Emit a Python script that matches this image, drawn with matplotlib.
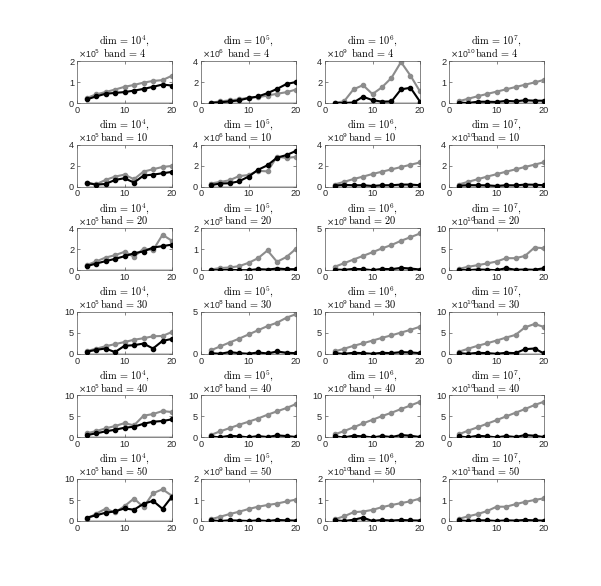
import matplotlib
matplotlib.use("Agg")
import matplotlib.pyplot as plt

FIG_W, FIG_H = 601, 586
GRAY = "#8c8c8c"
LIGHT = "#c8c8c8"
AXIS_COLOR = "#262626"

plt.rcParams["font.family"] = ["Liberation Sans", "DejaVu Sans"]

x = [2, 4, 6, 8, 10, 12, 14, 16, 18, 20]
dims = [4, 5, 6, 7]            # dim = 10^k
bands = [4, 10, 20, 30, 40, 50]

# exponent shown above each panel (x10^e), per row
exponents = [
    [5, 6, 9, 10],
    [5, 6, 9, 10],
    [5, 8, 9, 10],
    [5, 8, 9, 10],
    [5, 8, 9, 10],
    [5, 9, 10, 11],
]

# y ticks per panel (last one is the upper limit)
yticks = [
    [[0, 1, 2], [0, 2, 4], [0, 2, 4], [0, 1, 2]],
    [[0, 2, 4], [0, 2, 4], [0, 2, 4], [0, 2, 4]],
    [[0, 2, 4], [0, 1, 2], [0, 5], [0, 5, 10]],
    [[0, 5, 10], [0, 5], [0, 5, 10], [0, 5, 10]],
    [[0, 5, 10], [0, 5, 10], [0, 5, 10], [0, 5, 10]],
    [[0, 5, 10], [0, 1, 2], [0, 1, 2], [0, 1, 2]],
]

# gray series (scaled by the panel exponent)
gray = [
    [
        [0.23, 0.41, 0.52, 0.64, 0.77, 0.86, 0.97, 1.05, 1.09, 1.30],
        [0.03, 0.15, 0.25, 0.35, 0.50, 0.56, 0.70, 0.88, 1.03, 1.28],
        [0.03, 0.15, 1.30, 1.70, 0.85, 1.50, 2.40, 3.90, 2.60, 1.10],
        [0.08, 0.20, 0.32, 0.43, 0.54, 0.65, 0.76, 0.87, 0.98, 1.10],
    ],
    [
        [0.38, 0.22, 0.63, 0.95, 1.14, 0.70, 1.43, 1.65, 1.87, 1.97],
        [0.29, 0.44, 0.60, 1.00, 1.10, 1.50, 1.45, 2.85, 2.73, 2.83],
        [0.20, 0.45, 0.72, 0.95, 1.20, 1.42, 1.64, 1.86, 2.08, 2.30],
        [0.20, 0.45, 0.70, 0.95, 1.18, 1.42, 1.64, 1.87, 2.09, 2.32],
    ],
    [
        [0.48, 0.83, 1.20, 1.43, 1.75, 1.27, 2.06, 1.90, 3.37, 2.80],
        [0.03, 0.10, 0.13, 0.19, 0.35, 0.57, 0.94, 0.40, 0.63, 1.02],
        [0.40, 0.83, 1.27, 1.70, 2.14, 2.60, 3.00, 3.50, 3.93, 4.37],
        [0.30, 0.80, 1.20, 1.60, 2.06, 2.86, 2.86, 3.40, 5.40, 5.24],
    ],
    [
        [0.63, 1.20, 1.80, 2.30, 2.80, 3.35, 3.70, 4.17, 4.25, 5.20],
        [0.40, 0.87, 1.34, 1.80, 2.30, 2.80, 3.30, 3.70, 4.30, 4.72],
        [0.55, 1.20, 1.90, 2.50, 3.15, 3.80, 4.40, 5.05, 5.70, 6.45],
        [0.47, 1.20, 1.90, 2.50, 3.15, 3.86, 4.50, 6.30, 7.10, 6.40],
    ],
    [
        [0.95, 1.50, 2.14, 2.70, 3.40, 2.86, 5.16, 5.56, 6.27, 6.03],
        [0.55, 1.43, 2.20, 3.00, 3.73, 4.50, 5.40, 6.20, 7.00, 7.94],
        [0.70, 1.50, 2.40, 3.33, 4.20, 5.08, 5.87, 6.75, 7.60, 8.50],
        [0.70, 1.60, 2.40, 3.25, 4.10, 5.00, 5.87, 6.75, 7.70, 8.50],
    ],
    [
        [0.47, 1.73, 2.90, 2.05, 3.54, 5.35, 3.30, 6.60, 7.55, 6.00],
        [0.08, 0.20, 0.33, 0.44, 0.57, 0.68, 0.76, 0.83, 0.93, 1.02],
        [0.08, 0.22, 0.42, 0.45, 0.53, 0.66, 0.76, 0.85, 0.94, 1.07],
        [0.10, 0.22, 0.33, 0.47, 0.68, 0.68, 0.80, 0.91, 1.00, 1.08],
    ],
]

# black series (scaled by the panel exponent)
black = [
    [
        [0.17, 0.31, 0.44, 0.48, 0.52, 0.59, 0.67, 0.77, 0.88, 0.83],
        [0.02, 0.06, 0.15, 0.25, 0.47, 0.62, 0.94, 1.34, 1.81, 2.00],
        [0.00, 0.00, 0.05, 0.60, 0.27, 0.13, 0.15, 1.30, 1.45, 0.13],
        [0.02, 0.00, 0.06, 0.06, 0.05, 0.10, 0.08, 0.13, 0.11, 0.11],
    ],
    [
        [0.35, 0.19, 0.25, 0.63, 0.80, 0.38, 1.05, 1.14, 1.27, 1.40],
        [0.13, 0.29, 0.32, 0.50, 0.95, 1.60, 2.03, 2.76, 3.00, 3.40],
        [0.10, 0.16, 0.13, 0.13, 0.06, 0.13, 0.13, 0.19, 0.19, 0.13],
        [0.08, 0.14, 0.13, 0.12, 0.06, 0.13, 0.12, 0.19, 0.18, 0.13],
    ],
    [
        [0.38, 0.63, 0.86, 1.08, 1.33, 1.62, 1.78, 2.16, 2.29, 2.44],
        [0.00, 0.00, 0.02, 0.00, 0.00, 0.05, 0.03, 0.08, 0.05, 0.05],
        [0.08, 0.04, 0.16, 0.12, 0.00, 0.16, 0.12, 0.28, 0.20, 0.08],
        [0.10, 0.00, 0.16, 0.10, 0.00, 0.48, 0.10, 0.16, 0.10, 0.48],
    ],
    [
        [0.47, 0.94, 1.26, 0.40, 1.90, 2.05, 2.44, 1.26, 3.07, 3.55],
        [0.08, 0.00, 0.20, 0.08, 0.00, 0.16, 0.04, 0.28, 0.12, 0.08],
        [0.15, 0.00, 0.24, 0.16, 0.00, 0.24, 0.16, 0.40, 0.32, 0.16],
        [0.15, 0.00, 0.24, 0.16, 0.00, 0.24, 0.16, 1.10, 1.26, 0.08],
    ],
    [
        [0.55, 0.95, 1.43, 1.83, 2.30, 2.54, 3.25, 3.73, 3.90, 4.30],
        [0.24, 0.00, 0.40, 0.24, 0.00, 0.32, 0.08, 0.48, 0.32, 0.10],
        [0.24, 0.00, 0.40, 0.24, 0.00, 0.32, 0.08, 0.56, 0.40, 0.08],
        [0.24, 0.00, 0.40, 0.24, 0.00, 0.32, 0.08, 0.56, 0.40, 0.08],
    ],
    [
        [0.80, 1.34, 1.97, 2.28, 3.00, 2.68, 4.10, 4.80, 2.90, 5.83],
        [0.03, 0.00, 0.03, 0.02, 0.00, 0.03, 0.00, 0.05, 0.03, 0.02],
        [0.03, 0.00, 0.06, 0.16, 0.00, 0.05, 0.02, 0.05, 0.03, 0.02],
        [0.03, 0.00, 0.03, 0.03, 0.00, 0.03, 0.02, 0.05, 0.03, 0.02],
    ],
]

# light gray series lying on the axis
light = [0, 0, 0, 0, 0, 0, 0, 0, 0, 0]

col_left = [77, 201, 325, 449]
row_top = [61, 144.6, 228.2, 311.8, 395.4, 479]
ax_w, ax_h = 95, 42

fig = plt.figure(figsize=(FIG_W / 100, FIG_H / 100), dpi=100)

for r in range(6):
    for c in range(4):
        ax = fig.add_axes([
            col_left[c] / FIG_W,
            1 - (row_top[r] + ax_h) / FIG_H,
            ax_w / FIG_W,
            ax_h / FIG_H,
        ])
        ax.plot(x, light, color=LIGHT, linewidth=2.2, zorder=1)
        ax.plot(x, gray[r][c], color=GRAY, linewidth=1.5, marker="o",
                markersize=3, zorder=2)
        ax.plot(x, black[r][c], color="black", linewidth=1.5, marker="o",
                markersize=3, zorder=3)

        ticks = yticks[r][c]
        ax.set_xlim(0, 20)
        ax.set_ylim(0, ticks[-1])
        ax.set_xticks([0, 10, 20])
        ax.set_yticks(ticks)
        ax.set_yticklabels([f"{t:g}" for t in ticks])

        for s in ax.spines.values():
            s.set_linewidth(0.5)
            s.set_color("#555555")
        ax.tick_params(direction="in", length=2, width=0.5, pad=2,
                       labelsize=6.6, colors="#555555", labelcolor=AXIS_COLOR,
                       top=True, right=True)

        # two-line title, written as separate lines
        ax.annotate(rf"$\mathrm{{dim}}\,=\,10^{{{dims[c]}}},$",
                    xy=(0.5, 1), xycoords="axes fraction",
                    xytext=(0, 14.5), textcoords="offset points",
                    ha="center", va="center", fontsize=7.4,
                    math_fontfamily="cm")
        ax.annotate(rf"$\mathrm{{band}}\,=\,{bands[r]}$",
                    xy=(0.5, 1), xycoords="axes fraction",
                    xytext=(0, 6), textcoords="offset points",
                    ha="center", va="center", fontsize=7.4,
                    math_fontfamily="cm")
        ax.annotate(rf"$\times$10$^{{{exponents[r][c]}}}$",
                    xy=(0, 1), xycoords="axes fraction",
                    xytext=(1, 0.5), textcoords="offset points",
                    ha="left", va="bottom", fontsize=6.2, color=AXIS_COLOR,
                    math_fontfamily="dejavusans")

fig.savefig("out.png", dpi=100)
